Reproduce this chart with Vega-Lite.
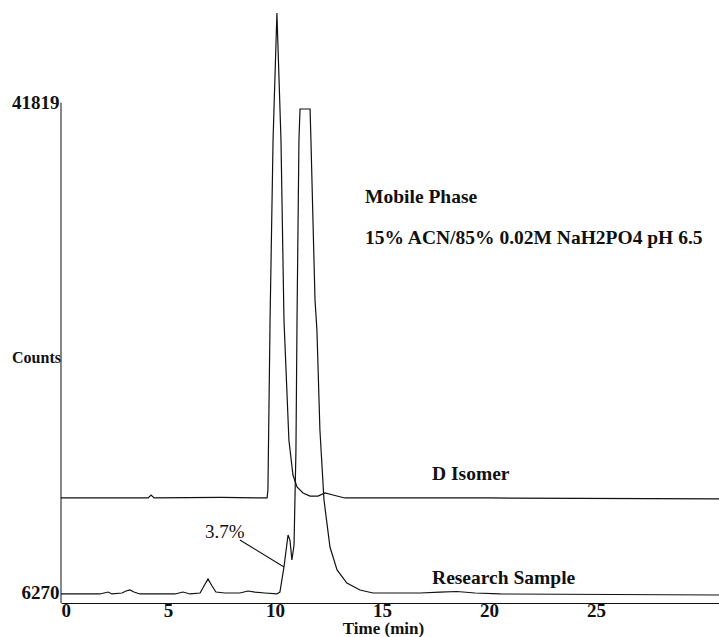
{
  "$schema": "https://vega.github.io/schema/vega-lite/v6.json",
  "width": 658,
  "height": 603,
  "autosize": "none",
  "padding": {"left": 61, "right": 0, "top": 0, "bottom": 34},
  "background": "white",
  "config": {"view": {"stroke": null}},
  "datasets": {
    "traces": [
      {"series": "D Isomer", "i": 1, "t": 0, "c": 13160},
      {"series": "D Isomer", "i": 2, "t": 4.07, "c": 13160},
      {"series": "D Isomer", "i": 3, "t": 4.21, "c": 13375},
      {"series": "D Isomer", "i": 4, "t": 4.35, "c": 13160},
      {"series": "D Isomer", "i": 5, "t": 7.5, "c": 13200},
      {"series": "D Isomer", "i": 6, "t": 9.63, "c": 13160},
      {"series": "D Isomer", "i": 7, "t": 9.67, "c": 13740},
      {"series": "D Isomer", "i": 8, "t": 9.77, "c": 26060},
      {"series": "D Isomer", "i": 9, "t": 9.91, "c": 39110},
      {"series": "D Isomer", "i": 10, "t": 10.09, "c": 48320},
      {"series": "D Isomer", "i": 11, "t": 10.28, "c": 39110},
      {"series": "D Isomer", "i": 12, "t": 10.42, "c": 26060},
      {"series": "D Isomer", "i": 13, "t": 10.65, "c": 17360},
      {"series": "D Isomer", "i": 14, "t": 10.84, "c": 14825},
      {"series": "D Isomer", "i": 15, "t": 11.03, "c": 13955},
      {"series": "D Isomer", "i": 16, "t": 11.31, "c": 13520},
      {"series": "D Isomer", "i": 17, "t": 11.64, "c": 13300},
      {"series": "D Isomer", "i": 18, "t": 12.01, "c": 13300},
      {"series": "D Isomer", "i": 19, "t": 12.34, "c": 13520},
      {"series": "D Isomer", "i": 20, "t": 12.71, "c": 13375},
      {"series": "D Isomer", "i": 21, "t": 13.27, "c": 13160},
      {"series": "D Isomer", "i": 22, "t": 20.0, "c": 13160},
      {"series": "D Isomer", "i": 23, "t": 30.75, "c": 13100},
      {"series": "Research Sample", "i": 1, "t": 0, "c": 6200},
      {"series": "Research Sample", "i": 2, "t": 1.82, "c": 6200},
      {"series": "Research Sample", "i": 3, "t": 2.2, "c": 6340},
      {"series": "Research Sample", "i": 4, "t": 2.38, "c": 6200},
      {"series": "Research Sample", "i": 5, "t": 2.85, "c": 6270},
      {"series": "Research Sample", "i": 6, "t": 3.04, "c": 6415},
      {"series": "Research Sample", "i": 7, "t": 3.22, "c": 6490},
      {"series": "Research Sample", "i": 8, "t": 3.41, "c": 6340},
      {"series": "Research Sample", "i": 9, "t": 3.69, "c": 6200},
      {"series": "Research Sample", "i": 10, "t": 5.33, "c": 6200},
      {"series": "Research Sample", "i": 11, "t": 5.7, "c": 6340},
      {"series": "Research Sample", "i": 12, "t": 6.03, "c": 6200},
      {"series": "Research Sample", "i": 13, "t": 6.5, "c": 6270},
      {"series": "Research Sample", "i": 14, "t": 6.68, "c": 6780},
      {"series": "Research Sample", "i": 15, "t": 6.87, "c": 7285},
      {"series": "Research Sample", "i": 16, "t": 7.06, "c": 6780},
      {"series": "Research Sample", "i": 17, "t": 7.24, "c": 6340},
      {"series": "Research Sample", "i": 18, "t": 7.66, "c": 6270},
      {"series": "Research Sample", "i": 19, "t": 8.36, "c": 6270},
      {"series": "Research Sample", "i": 20, "t": 8.74, "c": 6415},
      {"series": "Research Sample", "i": 21, "t": 9.07, "c": 6340},
      {"series": "Research Sample", "i": 22, "t": 9.53, "c": 6270},
      {"series": "Research Sample", "i": 23, "t": 10.09, "c": 6200},
      {"series": "Research Sample", "i": 24, "t": 10.23, "c": 6340},
      {"series": "Research Sample", "i": 25, "t": 10.42, "c": 8155},
      {"series": "Research Sample", "i": 26, "t": 10.61, "c": 10475},
      {"series": "Research Sample", "i": 27, "t": 10.7, "c": 10110},
      {"series": "Research Sample", "i": 28, "t": 10.79, "c": 8660},
      {"series": "Research Sample", "i": 29, "t": 10.89, "c": 9750},
      {"series": "Research Sample", "i": 30, "t": 10.98, "c": 16640},
      {"series": "Research Sample", "i": 31, "t": 11.03, "c": 26060},
      {"series": "Research Sample", "i": 32, "t": 11.12, "c": 39110},
      {"series": "Research Sample", "i": 33, "t": 11.17, "c": 41360},
      {"series": "Research Sample", "i": 34, "t": 11.64, "c": 41360},
      {"series": "Research Sample", "i": 35, "t": 11.68, "c": 39110},
      {"series": "Research Sample", "i": 36, "t": 11.87, "c": 27510},
      {"series": "Research Sample", "i": 37, "t": 11.96, "c": 25340},
      {"series": "Research Sample", "i": 38, "t": 12.1, "c": 18090},
      {"series": "Research Sample", "i": 39, "t": 12.29, "c": 13010},
      {"series": "Research Sample", "i": 40, "t": 12.57, "c": 9605},
      {"series": "Research Sample", "i": 41, "t": 12.9, "c": 7940},
      {"series": "Research Sample", "i": 42, "t": 13.36, "c": 6995},
      {"series": "Research Sample", "i": 43, "t": 13.97, "c": 6490},
      {"series": "Research Sample", "i": 44, "t": 14.58, "c": 6270},
      {"series": "Research Sample", "i": 45, "t": 16.78, "c": 6270},
      {"series": "Research Sample", "i": 46, "t": 17.71, "c": 6340},
      {"series": "Research Sample", "i": 47, "t": 18.5, "c": 6380},
      {"series": "Research Sample", "i": 48, "t": 19.35, "c": 6270},
      {"series": "Research Sample", "i": 49, "t": 20.51, "c": 6200},
      {"series": "Research Sample", "i": 50, "t": 30.75, "c": 6125}
    ],
    "labels": [
      {"t": 14.21, "c": 34980, "label": "Mobile Phase"},
      {"t": 14.21, "c": 32007, "label": "15% ACN/85% 0.02M NaH2PO4 pH 6.5"},
      {"t": 17.34, "c": 14897, "label": "D Isomer"},
      {"t": 17.34, "c": 7357, "label": "Research Sample"}
    ]
  },
  "layer": [
    {
      "data": {"name": "traces"},
      "mark": {"type": "line", "color": "#111111", "strokeWidth": 1.2, "clip": true},
      "encoding": {
        "x": {
          "field": "t", "type": "quantitative",
          "scale": {"domain": [0, 30.75], "nice": false, "zero": false},
          "axis": {
            "values": [0, 5, 10, 15, 20, 25],
            "title": "Time (min)",
            "grid": false, "ticks": false,
            "domainColor": "#111111", "domainWidth": 1.2,
            "labelFont": "Liberation Serif", "labelFontWeight": "bold", "labelFontSize": 19, "labelColor": "#111111",
            "labelPadding": -2,
            "titleFont": "Liberation Serif", "titleFontWeight": "bold", "titleFontSize": 17, "titleColor": "#111111",
            "titleX": 322, "titleY": 25, "titleBaseline": "middle"
          }
        },
        "y": {
          "field": "c", "type": "quantitative",
          "scale": {"domain": [5545, 49262], "nice": false, "zero": false},
          "axis": {
            "values": [6270, 41819],
            "format": "d",
            "title": "Counts",
            "grid": false, "ticks": false, "domain": false,
            "labelFont": "Liberation Serif", "labelFontWeight": "bold", "labelFontSize": 19, "labelColor": "#111111",
            "labelPadding": 2,
            "titleFont": "Liberation Serif", "titleFontWeight": "bold", "titleFontSize": 16, "titleColor": "#111111",
            "titleAngle": 0, "titleX": -25, "titleY": 357, "titleAlign": "center", "titleBaseline": "middle"
          }
        },
        "detail": {"field": "series", "type": "nominal"},
        "order": {"field": "i", "type": "quantitative"}
      }
    },
    {
      "data": {"values": [{"t": 0, "c0": 5545, "c1": 41819}]},
      "mark": {"type": "rule", "color": "#111111", "strokeWidth": 1},
      "encoding": {
        "x": {"field": "t", "type": "quantitative"},
        "y": {"field": "c0", "type": "quantitative"},
        "y2": {"field": "c1"}
      }
    },
    {
      "data": {"values": [{"t0": 8.36, "c0": 10110, "t1": 10.42, "c1": 8155}]},
      "mark": {"type": "rule", "color": "#111111", "strokeWidth": 1.2},
      "encoding": {
        "x": {"field": "t0", "type": "quantitative"},
        "y": {"field": "c0", "type": "quantitative"},
        "x2": {"field": "t1"},
        "y2": {"field": "c1"}
      }
    },
    {
      "data": {"values": [{"t": 6.73, "c": 10690, "label": "3.7%"}]},
      "mark": {"type": "text", "align": "left", "baseline": "middle", "font": "Liberation Serif", "fontSize": 19, "color": "#111111"},
      "encoding": {
        "x": {"field": "t", "type": "quantitative"},
        "y": {"field": "c", "type": "quantitative"},
        "text": {"field": "label"}
      }
    },
    {
      "data": {"name": "labels"},
      "mark": {"type": "text", "align": "left", "baseline": "middle", "font": "Liberation Serif", "fontSize": 19.5, "fontWeight": "bold", "color": "#111111"},
      "encoding": {
        "x": {"field": "t", "type": "quantitative"},
        "y": {"field": "c", "type": "quantitative"},
        "text": {"field": "label"}
      }
    }
  ]
}
